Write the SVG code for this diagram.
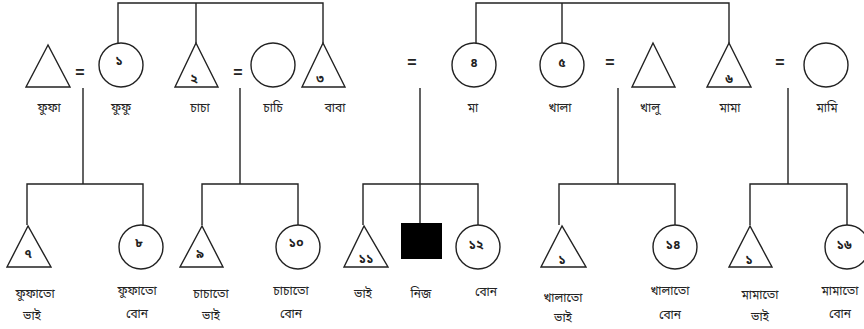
<svg xmlns="http://www.w3.org/2000/svg" width="864" height="329" viewBox="0 0 864 329">
<style>
.s{fill:#fff;stroke:#222;stroke-width:1.4}
.c{fill:none;stroke:#222;stroke-width:1.4}
.t{font-family:"Noto Sans Bengali","Noto Serif Bengali","Noto Sans","DejaVu Sans",sans-serif;font-size:12px;fill:#222;text-anchor:middle}
.n{font-family:"Noto Sans Bengali","Noto Serif Bengali","Noto Sans","DejaVu Sans",sans-serif;font-size:12.5px;font-weight:bold;fill:#222;text-anchor:middle}
.e{font-family:"Liberation Sans",sans-serif;font-size:16px;font-weight:bold;fill:#222;text-anchor:middle}
</style>
<rect width="864" height="329" fill="#fff"/>
<g id="connectors">
<path class="c" d="M118,43 V3 H323 V43 M196,3 V43"/>
<path class="c" d="M476,43 V3 H729 V43 M562,3 V43"/>
<path class="c" d="M83,88 V184 M240,88 V184 M420,88 V223 M618,88 V184 M788,88 V184"/>
<path class="c" d="M27,225 V184 H143 V225"/>
<path class="c" d="M202,225 V184 H298 V225"/>
<path class="c" d="M363,225 V184 H478 V225"/>
<path class="c" d="M559,225 V184 H675 V225"/>
<path class="c" d="M750,225 V184 H847 V225"/>
</g>
<g id="marriages">
<text class="e" x="80" y="78">=</text>
<text class="e" x="238" y="78">=</text>
<text class="e" x="412" y="68">=</text>
<text class="e" x="610" y="68">=</text>
<text class="e" x="780" y="68">=</text>
</g>
<g id="fupha"><polygon class="s" points="48,45 26,87 70,87"/><text class="t" x="49" y="112">ফুফা</text></g>
<g id="fupu"><circle class="s" cx="121" cy="65" r="22"/><text class="n" x="119" y="65">১</text><text class="t" x="121" y="112">ফুফু</text></g>
<g id="chacha"><polygon class="s" points="196,43 175,87 218,87"/><text class="n" x="194" y="83">২</text><text class="t" x="200" y="112">চাচা</text></g>
<g id="chachi"><circle class="s" cx="273" cy="65" r="22"/><text class="t" x="273" y="112">চাচি</text></g>
<g id="baba"><polygon class="s" points="323,43 302,87 345,87"/><text class="n" x="320" y="83">৩</text><text class="t" x="335" y="112">বাবা</text></g>
<g id="ma"><circle class="s" cx="474" cy="65" r="22"/><text class="n" x="474" y="67">৪</text><text class="t" x="473" y="112">মা</text></g>
<g id="khala"><circle class="s" cx="562" cy="65" r="22"/><text class="n" x="562" y="67">৫</text><text class="t" x="560" y="112">খালা</text></g>
<g id="khalu"><polygon class="s" points="653,43 632,87 675,87"/><text class="t" x="650" y="112">খালু</text></g>
<g id="mama"><polygon class="s" points="729,43 707,87 751,87"/><text class="n" x="729" y="83">৬</text><text class="t" x="730" y="112">মামা</text></g>
<g id="mami"><circle class="s" cx="826" cy="65" r="22"/><text class="t" x="827" y="112">মামি</text></g>
<g id="fuphato-bhai"><polygon class="s" points="28,226 7,267 51,267"/><text class="n" x="28" y="258">৭</text><text class="t" x="35" y="298">ফুফাতো</text><text class="t" x="32" y="320">ভাই</text></g>
<g id="fuphato-bon"><circle class="s" cx="141" cy="247" r="22"/><text class="n" x="139" y="247">৮</text><text class="t" x="137" y="295">ফুফাতো</text><text class="t" x="137" y="318">বোন</text></g>
<g id="chachato-bhai"><polygon class="s" points="202,226 180,267 223,267"/><text class="n" x="200" y="258">৯</text><text class="t" x="211" y="298">চাচাতো</text><text class="t" x="211" y="320">ভাই</text></g>
<g id="chachato-bon"><circle class="s" cx="298" cy="247" r="22"/><text class="n" x="296" y="247">১০</text><text class="t" x="291" y="295">চাচাতো</text><text class="t" x="291" y="318">বোন</text></g>
<g id="bhai"><polygon class="s" points="364,226 344,267 388,267"/><text class="n" x="366" y="263">১১</text><text class="t" x="363" y="298">ভাই</text></g>
<g id="nij"><rect x="401" y="223" width="41" height="36" fill="#000"/><text class="t" x="421" y="298">নিজ</text></g>
<g id="bon"><circle class="s" cx="478" cy="247" r="22"/><text class="n" x="476" y="249">১২</text><text class="t" x="486" y="296">বোন</text></g>
<g id="khalato-bhai"><polygon class="s" points="562,226 541,267 586,267"/><text class="n" x="562" y="264">১</text><text class="t" x="563" y="302">খালাতো</text><text class="t" x="563" y="322">ভাই</text></g>
<g id="khalato-bon"><circle class="s" cx="675" cy="247" r="22"/><text class="n" x="673" y="249">১৪</text><text class="t" x="670" y="295">খালাতো</text><text class="t" x="670" y="319">বোন</text></g>
<g id="mamato-bhai"><polygon class="s" points="750,226 729,267 772,267"/><text class="n" x="749" y="264">১</text><text class="t" x="760" y="299">মামাতো</text><text class="t" x="760" y="321">ভাই</text></g>
<g id="mamato-bon"><circle class="s" cx="847" cy="247" r="22"/><text class="n" x="844" y="249">১৬</text><text class="t" x="840" y="295">মামাতো</text><text class="t" x="840" y="318">বোন</text></g>
</svg>
